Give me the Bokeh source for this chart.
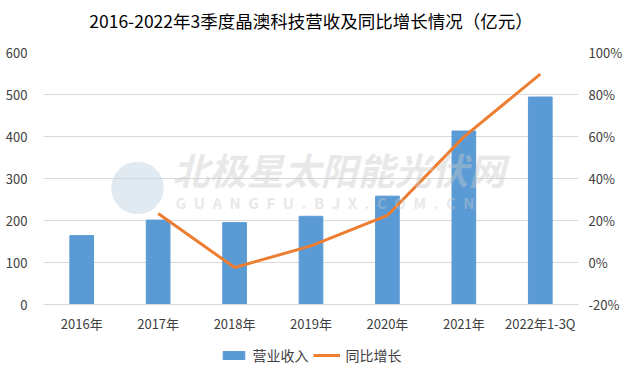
from bokeh.plotting import figure
from bokeh.layouts import column
from bokeh.models import (Range1d, LinearAxis, FixedTicker, PrintfTickFormatter,
                          Legend, LegendItem, Label, ColumnDataSource, FactorRange)
from bokeh.embed import file_html
from bokeh.resources import INLINE

# ---- data ----
years = ["2016年", "2017年", "2018年", "2019年", "2020年", "2021年", "2022年1-3Q"]
revenue = [164, 201, 195, 210, 258, 413, 494]          # 营业收入 (亿元)
growth_years = years[1:]
growth = [23.3, -2.4, 7.9, 22.4, 59.8, 89.7]          # 同比增长 (%)
left_ticks = [0, 100, 200, 300, 400, 500, 600]
right_ticks = [-20, 0, 20, 40, 60, 80, 100]
series_names = ["营业收入", "同比增长"]
title_text = "2016-2022年3季度晶澳科技营收及同比增长情况（亿元）"

FONT = "Noto Sans CJK SC"
BAR = "#5B9BD5"
LINE = "#ED7D31"
GRID = "#D9D9D9"
TXT = "#404040"


def strip(h, **kw):
    f = figure(width=627, height=h, output_backend="svg", toolbar_location=None,
               min_border=0, **kw)
    f.axis.visible = False
    f.grid.visible = False
    f.outline_line_color = None
    f.border_fill_color = "white"
    return f


# ---- title strip ----
tt = strip(40, x_range=Range1d(0, 1), y_range=Range1d(0, 1))
tt.add_layout(Label(x=0.5, y=0.5, text=title_text, text_align="center",
                    text_baseline="middle", text_font=FONT,
                    text_font_size="17.5px", text_color="#000000"))

# ---- main chart ----
p = figure(width=627, height=296, x_range=FactorRange(factors=years),
           y_range=Range1d(0, 600), output_backend="svg", toolbar_location=None,
           min_border_left=43, min_border_right=49, min_border_top=12,
           min_border_bottom=32)
p.extra_y_ranges = {"pct": Range1d(-20, 100)}
p.outline_line_color = None
p.background_fill_color = "white"
p.border_fill_color = "white"

# watermark (logo disc + site name)
p.add_layout(Label(x=94, y=120, x_units="screen", y_units="screen", text="●",
                   text_align="center", text_baseline="middle",
                   text_font=FONT, text_font_size="58px",
                   text_color="#C9D7E6", text_alpha=0.55))
p.add_layout(Label(x=129, y=109, x_units="screen", y_units="screen",
                   text="北极星太阳能光伏网", text_font=FONT,
                   text_font_size="37px", text_font_style="bold italic",
                   text_color="#C8C8C8", text_alpha=0.42))
sp = "\u2002"
p.add_layout(Label(x=132, y=92, x_units="screen", y_units="screen",
                   text=sp.join("GUANGFU.BJX.COM.CN"), text_font=FONT,
                   text_font_size="15px", text_font_style="bold",
                   text_color="#C8C8C8", text_alpha=0.42))

src_bar = ColumnDataSource(dict(x=years, y=revenue))
src_line = ColumnDataSource(dict(x=growth_years, y=growth))
bars = p.vbar(x="x", top="y", width=0.31, source=src_bar, color=BAR)
line = p.line(x="x", y="y", source=src_line, y_range_name="pct",
              line_color=LINE, line_width=3)

# axes
p.yaxis.ticker = FixedTicker(ticks=left_ticks)
right = LinearAxis(y_range_name="pct", ticker=FixedTicker(ticks=right_ticks),
                   formatter=PrintfTickFormatter(format="%d%%"))
p.add_layout(right, "right")

for ax in [p.yaxis[0], right]:
    ax.axis_line_color = None
    ax.major_tick_line_color = None
    ax.minor_tick_line_color = None
    ax.major_label_text_font = FONT
    ax.major_label_text_font_size = "13px"
    ax.major_label_text_color = TXT
p.yaxis[0].major_label_standoff = 10
right.major_label_standoff = 4

xa = p.xaxis[0]
xa.axis_line_color = GRID
xa.major_tick_line_color = None
xa.minor_tick_line_color = None
xa.major_label_text_font = FONT
xa.major_label_text_font_size = "13px"
xa.major_label_text_color = TXT
xa.major_label_standoff = 3

p.xgrid.grid_line_color = None
p.ygrid.grid_line_color = GRID
p.ygrid.ticker = FixedTicker(ticks=left_ticks)

# ---- legend strip: hidden renderers sharing the chart's data ----
lg = strip(38, x_range=FactorRange(factors=years))
sw_bar = lg.vbar(x="x", top="y", width=0.31, source=src_bar, color=BAR)
sw_line = lg.line(x="x", y="y", source=src_line, line_color=LINE, line_width=3)
sw_bar.visible = False
sw_line.visible = False
legend = Legend(items=[LegendItem(label=series_names[0], renderers=[sw_bar]),
                       LegendItem(label=series_names[1], renderers=[sw_line])],
                orientation="horizontal", location="center",
                label_text_font=FONT, label_text_font_size="14px",
                label_text_color=TXT, glyph_width=27, glyph_height=10,
                spacing=4, label_standoff=6, padding=0, margin=0,
                inactive_fill_alpha=0, click_policy="none",
                border_line_color=None, background_fill_alpha=0)
lg.add_layout(legend, "center")

layout = column(tt, p, lg, spacing=0)
open("out.html", "w").write(file_html(layout, INLINE))
